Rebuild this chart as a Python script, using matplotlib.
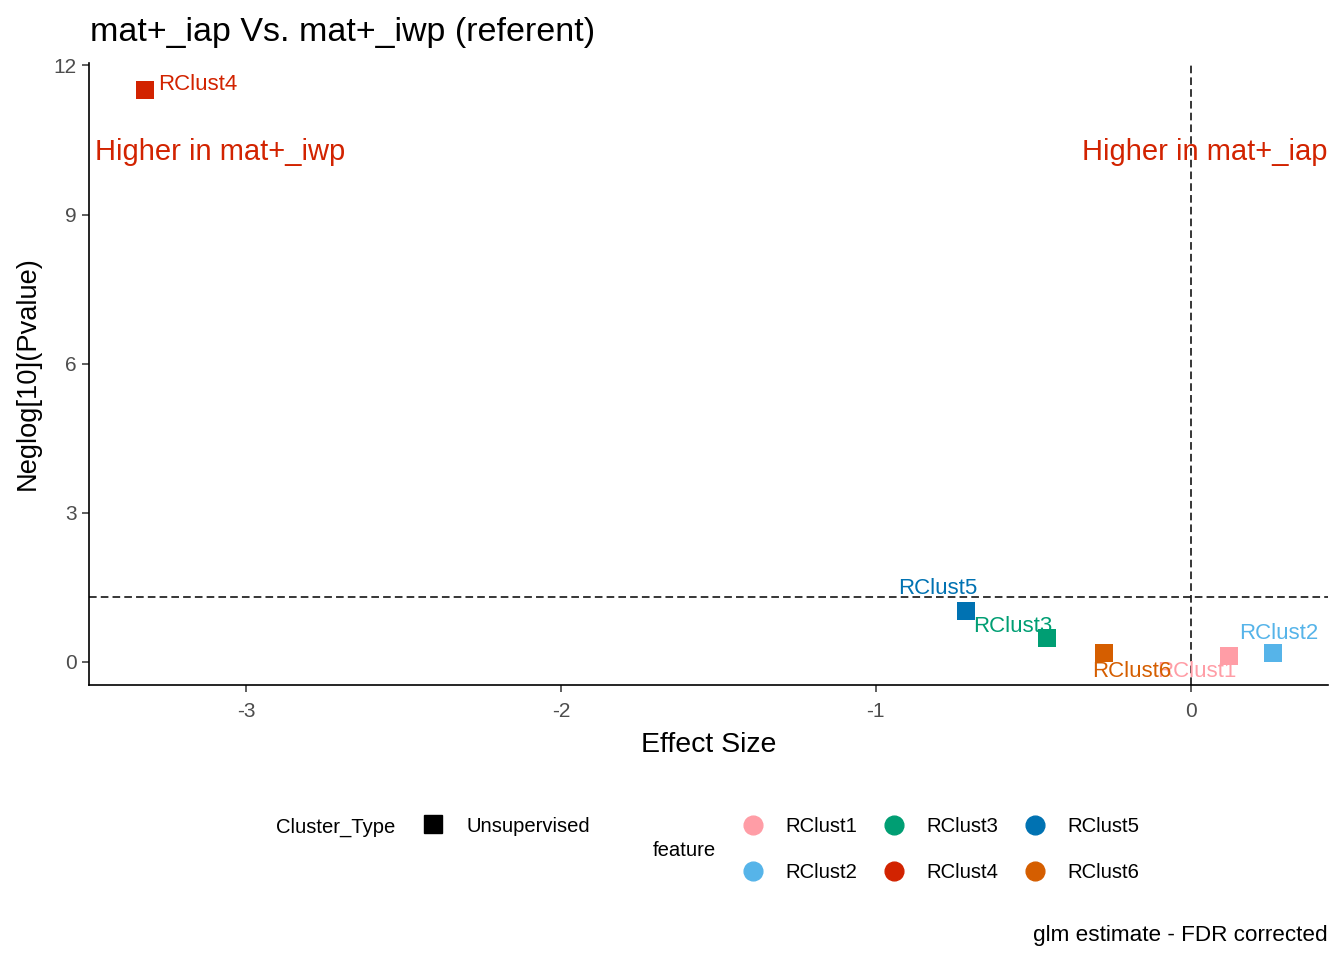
import matplotlib
matplotlib.use("Agg")
import matplotlib.pyplot as plt
from matplotlib.lines import Line2D

plt.rcParams['font.family'] = ['Liberation Sans', 'DejaVu Sans']

# ---- data ----
features = ["RClust1", "RClust2", "RClust3", "RClust4", "RClust5", "RClust6"]
effect_size = [0.120, 0.260, -0.458, -3.322, -0.715, -0.274]
neglog_p = [0.105, 0.185, 0.467, 11.51, 1.011, 0.185]
colors = ["#FF9DA6", "#56B4E9", "#009E73", "#D22300", "#0072B2", "#D55E00"]
# label offsets (points) mimicking ggrepel placement
label_offsets = [(-23, -10.8), (4.5, 13.7), (-24.5, 8.7), (38.5, 3.8), (-20.1, 16.4), (19.6, -13.7)]
x_ticks = [-3, -2, -1, 0]
y_ticks = [0, 3, 6, 9, 12]
sig_line = 1.301  # -log10(0.05)

W, H = 1344, 960
fig = plt.figure(figsize=(W / 100, H / 100), dpi=100)
ax = fig.add_axes([89 / W, 1 - 685 / H, (1328 - 89) / W, (685 - 63) / H])

for x, y, c, f, off in zip(effect_size, neglog_p, colors, features, label_offsets):
    ax.scatter([x], [y], marker='s', s=185, color=c, zorder=3, linewidths=0)
    ax.annotate(f, (x, y), xytext=off, textcoords='offset points', ha='center', va='center',
                color=c, fontsize=16, zorder=4)

ax.axhline(sig_line, color='black', lw=1.1, linestyle=(0, (5, 2.7)), zorder=1)
ax.axvline(0, color='black', lw=1.1, linestyle=(0, (5, 2.7)), zorder=1)

ax.set_xlim(-3.499, 0.436)
ax.set_ylim(-0.469, 12.05)
ax.set_xticks(x_ticks)
ax.set_yticks(y_ticks)
ax.set_xticklabels([str(t) for t in x_ticks])
ax.set_yticklabels([str(t) for t in y_ticks])
ax.tick_params(axis='both', labelsize=15, labelcolor='#4D4D4D', length=5, width=1.1, color='#333333', pad=4)
ax.tick_params(axis='x', pad=7)
for s in ['top', 'right']:
    ax.spines[s].set_visible(False)
for s in ['left', 'bottom']:
    ax.spines[s].set_linewidth(1.2)

ax.text(0.005, 10.26, "Higher in mat+_iwp", transform=ax.get_yaxis_transform(), ha='left', va='center',
        color='#D22300', fontsize=21)
ax.text(1.0, 10.26, "Higher in mat+_iap", transform=ax.get_yaxis_transform(), ha='right', va='center',
        color='#D22300', fontsize=21)

# titles
fig.text(90 / W, 1 - 33 / H, "mat+_iap Vs. mat+_iwp (referent)", ha='left', va='center', fontsize=24.5)
fig.text(708.5 / W, 1 - 745 / H, "Effect Size", ha='center', va='center', fontsize=20.5)
fig.text(28 / W, 1 - 373.5 / H, "Neglog[10](Pvalue)", ha='center', va='center', rotation=90, fontsize=19.6)
fig.text(1328 / W, 1 - 935 / H, "glm estimate - FDR corrected", ha='right', va='center', fontsize=16.2)

# legends (manual layout like ggplot bottom legends)
def fx(px):
    return px / W

def fy(py):
    return 1 - py / H

fig.text(fx(276), fy(827), "Cluster_Type", ha='left', va='center', fontsize=14.6)
fig.add_artist(Line2D([fx(433)], [fy(823.5)], marker='s', markersize=13.5, color='black', linestyle='none',
                      transform=fig.transFigure))
fig.text(fx(467), fy(827), "Unsupervised", ha='left', va='center', fontsize=14.6)

fig.text(fx(652.7), fy(850), "feature", ha='left', va='center', fontsize=14.6)
col_x = [752.7, 893.7, 1034.5]
row_y = [824.5, 870.5]
for i, (f, c) in enumerate(zip(features, colors)):
    col, row = i // 2, i % 2
    fig.add_artist(Line2D([fx(col_x[col])], [fy(row_y[row])], marker='o', markersize=13.5, color=c,
                          linestyle='none', transform=fig.transFigure))
    fig.text(fx(col_x[col] + 33), fy(row_y[row] + 2.5), f, ha='left', va='center', fontsize=14.6)

fig.savefig("out.png", dpi=100)
